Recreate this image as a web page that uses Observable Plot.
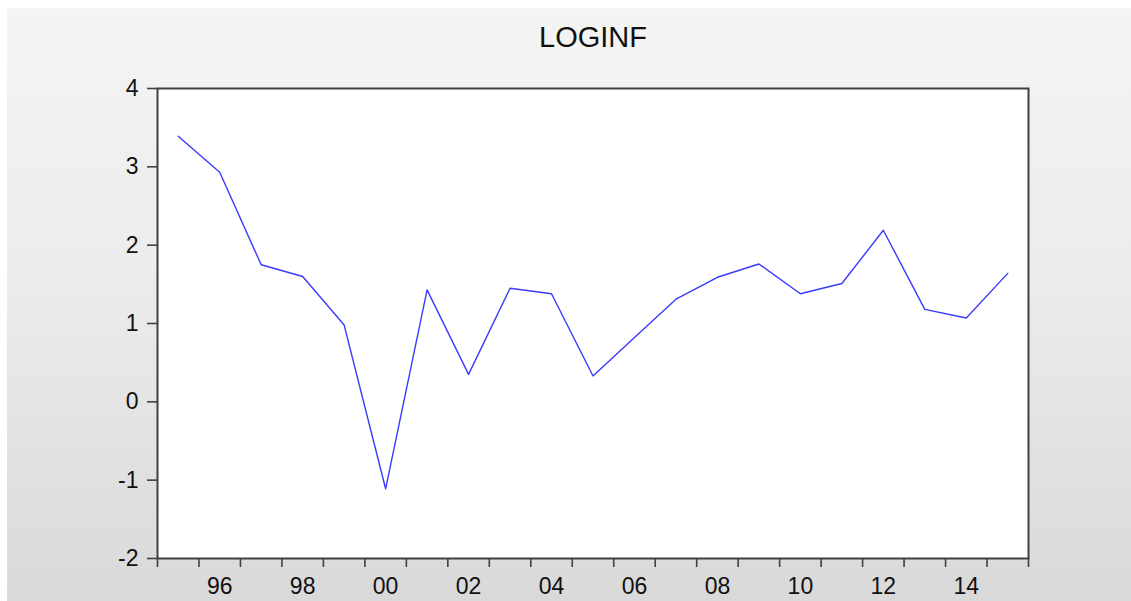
<!DOCTYPE html>
<html>
<head>
<meta charset="utf-8">
<script src="https://cdn.jsdelivr.net/npm/d3@7"></script>
<script src="https://cdn.jsdelivr.net/npm/@observablehq/plot@0.6"></script>
<style>
  html, body { margin: 0; padding: 0; background: #ffffff; }
  #panel {
    position: absolute; left: 7px; top: 8px; width: 1124px; height: 593px;
    background: linear-gradient(to bottom, #f4f4f4 0%, #ececec 45%, #d9d9d9 100%);
    font-family: "Liberation Sans", Arial, sans-serif;
  }
  #title {
    height: 60px; line-height: 58px; text-align: center; font-size: 29px; color: #111;
    padding-left: 48px;
  }
  svg { display: block; background: transparent !important; }
</style>
</head>
<body>
<div id="panel">
  <div id="title">LOGINF</div>
  <div id="chart"></div>
</div>
<script>
const title = "LOGINF";
const years = [1995, 1996, 1997, 1998, 1999, 2000, 2001, 2002, 2003, 2004, 2005,
               2006, 2007, 2008, 2009, 2010, 2011, 2012, 2013, 2014, 2015];
const values = [3.39, 2.93, 1.75, 1.60, 0.98, -1.11, 1.43, 0.35, 1.45, 1.38, 0.33,
                0.82, 1.31, 1.59, 1.76, 1.38, 1.51, 2.19, 1.18, 1.07, 1.64];
const xDomain = [1995, 2016];
const yTicks = [-2, -1, 0, 1, 2, 3, 4];
const yLabels = ["-2", "-1", "0", "1", "2", "3", "4"];
const xTickYears = d3.range(1995, 2017);
const xLabelYears = [1996, 1998, 2000, 2002, 2004, 2006, 2008, 2010, 2012, 2014];
const xLabels = ["96", "98", "00", "02", "04", "06", "08", "10", "12", "14"];

document.getElementById("title").textContent = title;

const data = years.map((y, i) => ({year: y, value: values[i]}));
const xLabelMap = new Map(xLabelYears.map((y, i) => [y + 0.5, xLabels[i]]));
const yLabelMap = new Map(yTicks.map((v, i) => [v, yLabels[i]]));

const chart = Plot.plot({
  width: 1124,
  height: 533,
  marginTop: 20,
  marginBottom: 43,
  marginLeft: 150,
  marginRight: 103,
  style: {fontFamily: "Liberation Sans, Arial, sans-serif", background: "transparent", color: "#111"},
  x: {domain: xDomain, label: null},
  y: {domain: [-2, 4], label: null},
  marks: [
    Plot.frame({fill: "white"}),
    Plot.axisX({ticks: xTickYears, tickSize: 9, tickFormat: () => "", label: null,
                stroke: "#404040", strokeWidth: 1.6, strokeOpacity: 1}),
    Plot.axisX({ticks: xLabelYears.map(y => y + 0.5), tickSize: 0, tickPadding: 19, label: null,
                tickFormat: d => xLabelMap.get(d), fontSize: 23, fill: "#111"}),
    Plot.axisY({ticks: yTicks, tickSize: 10, tickPadding: 9, fontSize: 23, fill: "#111", label: null,
                tickFormat: d => yLabelMap.get(d),
                stroke: "#404040", strokeWidth: 1.6, strokeOpacity: 1}),
    Plot.line(data, {x: d => d.year + 0.5, y: "value", stroke: "#3a3aff", strokeWidth: 1.4}),
    Plot.frame({stroke: "#404040", strokeWidth: 2})
  ]
});
document.getElementById("chart").appendChild(chart);
</script>
</body>
</html>
